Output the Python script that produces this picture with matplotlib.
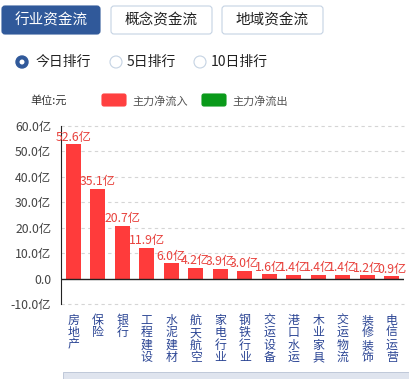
import matplotlib.pyplot as plt
from matplotlib.patches import FancyBboxPatch, Circle, Rectangle

plt.rcParams['font.family'] = ['Noto Sans CJK SC', 'DejaVu Sans']

industries = ["房地产", "保险", "银行", "工程建设", "水泥建材", "航天航空", "家电行业",
              "钢铁行业", "交运设备", "港口水运", "木业家具", "交运物流", "装修装饰", "电信运营"]
net_inflow = [52.6, 35.1, 20.7, 11.9, 6.0, 4.2, 3.9, 3.0, 1.6, 1.4, 1.4, 1.4, 1.2, 0.9]
yticks = [-10, 0, 10, 20, 30, 40, 50, 60]
ytick_labels = ["-10.0亿", "0.0", "10.0亿", "20.0亿", "30.0亿", "40.0亿", "50.0亿", "60.0亿"]
tabs = ["行业资金流", "概念资金流", "地域资金流"]
ranks = ["今日排行", "5日排行", "10日排行"]

W, H = 410, 379
fig = plt.figure(figsize=(W / 100, H / 100), dpi=100)
tr = fig.dpi_scale_trans


def P(x, y):
    # pixel (top-left origin) -> inches
    return x / 100, (H - y) / 100


def box(x0, y0, x1, y1, fc, ec, r=3):
    x, y = P(x0, y1)
    fig.patches.append(FancyBboxPatch((x, y), (x1 - x0) / 100, (y1 - y0) / 100,
                                      boxstyle=f"round,pad=0,rounding_size={r / 100}",
                                      fc=fc, ec=ec, lw=0.8, transform=tr, figure=fig))


# --- tabs ---
tab_x = [(2, 100), (111, 212), (222, 323)]
for i, (name, (a, b)) in enumerate(zip(tabs, tab_x)):
    if i == 0:
        box(a, 6, b, 34, '#30599a', '#30599a')
        col = 'white'
    else:
        box(a, 6, b, 34, 'white', '#c5d3e3')
        col = '#222222'
    fig.text(*P((a + b) / 2, 20.5), name, transform=tr, ha='center', va='center',
             fontsize=10.5, color=col)

# --- radio buttons ---
radio_x = [(22, 36), (116, 127), (200, 211)]
for i, (name, (cx, tx)) in enumerate(zip(ranks, radio_x)):
    if i == 0:
        fig.patches.append(Circle(P(cx, 62), 0.06, fc='#30599a', ec='#30599a', transform=tr, figure=fig))
        fig.patches.append(Circle(P(cx, 62), 0.025, fc='white', ec='none', transform=tr, figure=fig))
    else:
        fig.patches.append(Circle(P(cx, 62), 0.06, fc='white', ec='#c5d3e3', lw=0.8, transform=tr, figure=fig))
    fig.text(*P(tx, 62), name, transform=tr, ha='left', va='center', fontsize=10, color='#222222')

# --- legend row ---
fig.text(*P(30, 100), "单位:元", transform=tr, ha='left', va='center', fontsize=8, color='#333333')
box(102, 94, 126, 106, '#ff4040', '#ff4040', r=2)
fig.text(*P(132, 101), "主力净流入", transform=tr, ha='left', va='center', fontsize=8, color='#555555')
box(202, 94, 226, 106, '#0a9a1a', '#0a9a1a', r=2)
fig.text(*P(232, 101), "主力净流出", transform=tr, ha='left', va='center', fontsize=8, color='#555555')

# --- chart ---
ax = fig.add_axes([61 / W, 1 - 304 / H, (404 - 61) / W, (304 - 125.5) / H])
x = range(len(industries))
ax.bar(x, net_inflow, width=0.6, color='#ff3b3b', zorder=3)
for i, v in enumerate(net_inflow):
    ax.annotate(f"{v:.1f}亿", (i, v), xytext=(0, 0.5), textcoords='offset points',
                ha='center', va='bottom', fontsize=8.8, color='#e8413c', zorder=4)
    ax.annotate("\n".join(industries[i]), (i, 0), xycoords=('data', 'axes fraction'),
                xytext=(0, -7), textcoords='offset points', ha='center', va='top',
                fontsize=8.6, color='#2b4594', linespacing=0.95)

ax.set_xlim(-0.5, len(industries) - 0.5)
ax.set_ylim(-10, 60)
ax.set_yticks(yticks)
ax.set_yticklabels(ytick_labels, fontsize=8.8, color='#444444')
ax.set_xticks([])
ax.tick_params(axis='y', length=0, pad=7)
for t in yticks:
    if t != 0:
        ax.axhline(t, color='#d5d5d5', lw=0.8, ls=(0, (3, 3)), zorder=1, clip_on=False)
ax.axhline(0, color='#222222', lw=1, zorder=4)
for s in ['top', 'right', 'bottom']:
    ax.spines[s].set_visible(False)
ax.spines['left'].set_color('#222222')

# scrollbar strip at bottom
x0, y0 = P(63, 379)
fig.patches.append(Rectangle((x0, y0), (410 - 63) / 100, 0.07, fc='#dfe4ee', ec='#b8c2d4', lw=0.6,
                             transform=tr, figure=fig))

plt.savefig("out.png", dpi=100)
